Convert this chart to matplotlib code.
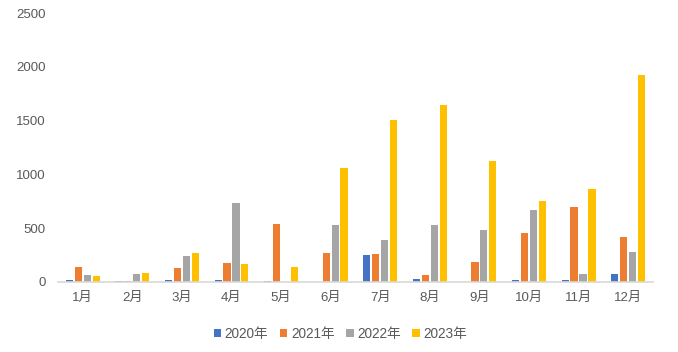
import matplotlib
matplotlib.use("Agg")
import matplotlib.pyplot as plt
import numpy as np
from matplotlib.patches import Patch

months = ["1月", "2月", "3月", "4月", "5月", "6月", "7月", "8月", "9月", "10月", "11月", "12月"]
series_names = ["2020年", "2021年", "2022年", "2023年"]
v2020 = [18, 12, 21, 18, 12, 0, 251, 28, 0, 19, 19, 71]
v2021 = [139, 10, 127, 177, 539, 267, 260, 65, 186, 456, 701, 415]
v2022 = [62, 72, 242, 734, 4, 527, 390, 527, 483, 673, 74, 282]
v2023 = [59, 84, 267, 167, 139, 1060, 1508, 1642, 1120, 753, 867, 1924]
colors = ["#4472C4", "#ED7D31", "#A5A5A5", "#FFC000"]
yticks = [0, 500, 1000, 1500, 2000, 2500]

plt.rcParams['font.family'] = ['Liberation Sans', 'Noto Sans CJK SC', 'DejaVu Sans']
text_color = "#595959"

fig = plt.figure(figsize=(6.78, 3.52), dpi=100)
ax = fig.add_axes([0.0855, 0.199, 0.8775, 0.764])

x = np.arange(len(months))
width = 0.145
step = 0.18
data = [v2020, v2021, v2022, v2023]
for i, (vals, c) in enumerate(zip(data, colors)):
    ax.bar(x + (i - 1.5) * step, vals, width=width, color=c, label=series_names[i],
           linewidth=0)

ax.set_xlim(-0.5, len(months) - 0.5)
ax.set_ylim(0, 2500)
ax.set_yticks(yticks)
ax.set_xticks(x)
ax.set_xticklabels(months)
for s in ["top", "right", "left"]:
    ax.spines[s].set_visible(False)
ax.spines["bottom"].set_color("#D9D9D9")
ax.spines["bottom"].set_linewidth(1.2)
ax.tick_params(axis='both', length=0, colors=text_color, labelsize=9.5)
ax.tick_params(axis='y', pad=9)
ax.tick_params(axis='x', pad=7)

handles = [Patch(facecolor=c, edgecolor='none') for c in colors]
fig.legend(handles, series_names, loc='center', bbox_to_anchor=(0.502, 0.052), ncol=4,
           frameon=False, fontsize=9.8, handlelength=0.55, handleheight=0.55,
           handletextpad=0.25, columnspacing=0.85, labelcolor=text_color)

fig.savefig("out.png", dpi=100, facecolor='white')
